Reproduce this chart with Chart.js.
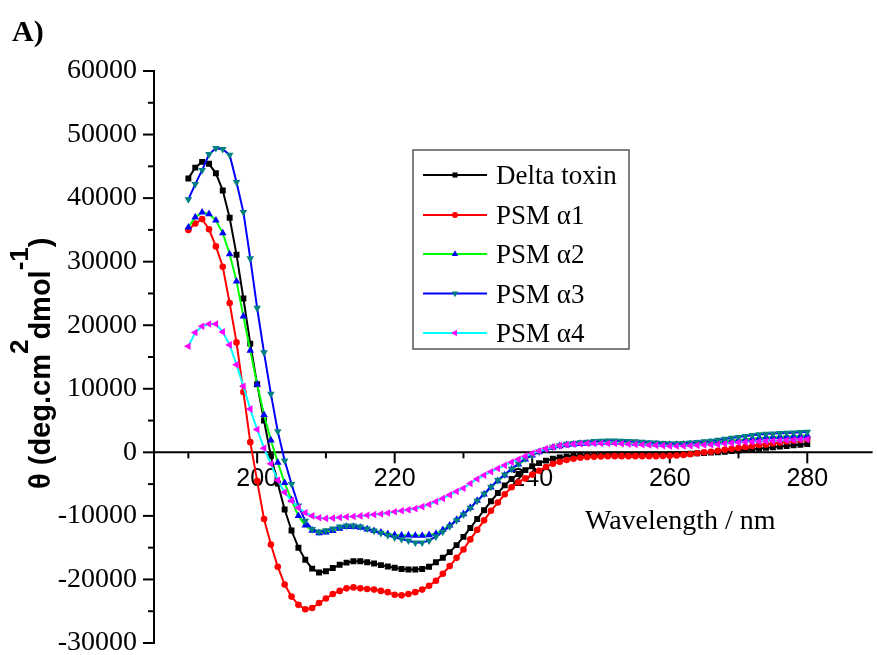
<!DOCTYPE html>
<html>
<head>
<meta charset="utf-8">
<script src="https://cdn.jsdelivr.net/npm/chart.js@4/dist/chart.umd.min.js"></script>
<style>
html,body{margin:0;padding:0;background:#fff;overflow:hidden;}
canvas{display:block;}
</style>
</head>
<body>
<canvas id="c" width="877" height="655"></canvas>
<script>
// ---- data ----
const wavelengths = [
190,191,192,193,194,195,196,197,198,199,
200,201,202,203,204,205,206,207,208,209,
210,211,212,213,214,215,216,217,218,219,
220,221,222,223,224,225,226,227,228,229,
230,231,232,233,234,235,236,237,238,239,
240,241,242,243,244,245,246,247,248,249,
250,251,252,253,254,255,256,257,258,259,
260,261,262,263,264,265,266,267,268,269,
270,271,272,273,274,275,276,277,278,279,
280];

const deltaToxin = [
43100,44800,45700,45400,43900,41200,36900,31100,24200,17100,
10700,5000,-600,-4900,-9000,-12300,-15000,-16900,-18300,-18900,
-18700,-18200,-17700,-17350,-17150,-17150,-17300,-17500,-17750,-17950,
-18150,-18350,-18450,-18450,-18350,-18000,-17300,-16600,-15700,-14600,
-13300,-11900,-10500,-9100,-7700,-6400,-5200,-4200,-3400,-2800,
-2200,-1700,-1300,-1000,-800,-650,-550,-480,-430,-400,
-380,-360,-350,-350,-350,-350,-350,-350,-340,-320,
-300,-280,-250,-200,-150,-100,-50,0,100,200,
300,400,500,600,700,800,900,1000,1100,1200,
1300];

const psmA1 = [
35000,36000,36700,35100,32400,29200,23500,17300,9500,1600,
-4500,-10500,-14500,-18000,-20800,-22700,-24000,-24700,-24500,-23700,
-23000,-22300,-21800,-21400,-21250,-21400,-21500,-21600,-21800,-22000,
-22400,-22500,-22300,-22000,-21600,-21000,-20200,-19100,-17900,-16600,
-15300,-13700,-12200,-10700,-9200,-7900,-6600,-5500,-4700,-4100,
-3500,-2900,-2300,-1800,-1500,-1200,-1000,-850,-750,-700,
-650,-620,-600,-600,-600,-600,-600,-600,-600,-580,
-550,-500,-400,-300,-150,0,100,250,400,550,
700,850,1000,1150,1250,1400,1550,1700,1850,1950,
2050];

const psmA2 = [
35400,37000,37750,37500,36500,34500,31200,26900,21400,16000,
10700,5900,1900,-1600,-4800,-7500,-10000,-11500,-12300,-12700,
-12600,-12350,-12000,-11700,-11700,-11850,-12100,-12350,-12600,-12850,
-13000,-13050,-13050,-13100,-13100,-13000,-12800,-12200,-11500,-10600,
-9700,-8700,-7600,-6600,-5500,-4500,-3600,-2700,-1900,-1100,
-450,50,400,750,1000,1150,1250,1350,1400,1450,
1500,1500,1500,1500,1450,1400,1350,1300,1250,1200,
1200,1200,1250,1300,1350,1450,1550,1650,1750,1850,
1950,2050,2150,2250,2350,2400,2450,2500,2550,2600,
2650];

const psmA3 = [
39800,42200,44400,46900,47850,47700,46800,42500,37800,30500,
22700,15700,9200,3300,-1300,-5000,-8400,-10800,-12100,-12500,
-12300,-12000,-11700,-11550,-11550,-11700,-12000,-12350,-12700,-13050,
-13400,-13650,-13900,-14200,-14200,-13900,-13250,-12500,-11650,-10700,
-9800,-8750,-7650,-6550,-5450,-4400,-3500,-2600,-1800,-1000,
-450,100,500,850,1100,1300,1450,1550,1650,1750,
1800,1850,1850,1800,1750,1700,1650,1550,1500,1450,
1400,1400,1450,1500,1600,1700,1800,1950,2100,2250,
2400,2550,2700,2800,2900,2950,3000,3050,3100,3150,
3200];

const psmA4 = [
16700,18850,19840,20200,20200,18950,16900,13800,10400,6800,
3600,650,-1800,-4400,-6300,-7600,-8700,-9500,-10000,-10300,
-10400,-10350,-10250,-10150,-10100,-10000,-9900,-9800,-9700,-9550,
-9350,-9200,-9050,-8850,-8550,-8200,-7750,-7250,-6700,-6150,
-5650,-4900,-4200,-3600,-3050,-2550,-2050,-1550,-1100,-600,
-150,200,550,850,1050,1200,1300,1350,1400,1400,
1400,1400,1380,1350,1300,1250,1200,1150,1100,1050,
1000,1000,1000,1050,1100,1150,1200,1250,1350,1450,
1550,1600,1650,1700,1750,1800,1850,1900,1950,2000,
2050];

const seriesNames = ['Delta toxin', 'PSM α1', 'PSM α2', 'PSM α3', 'PSM α4'];
const xTickLabels = [200, 220, 240, 260, 280];
const xTickAll = [190, 200, 210, 220, 230, 240, 250, 260, 270, 280];
const yTickAll = [-30000,-25000,-20000,-15000,-10000,-5000,0,5000,10000,15000,20000,25000,30000,35000,40000,45000,50000,55000,60000];

// ---- styles ----
const styles = [
  {line:'#000000', mark:'#000000', shape:'rect', rot:0, r:4.2},
  {line:'#ff0000', mark:'#ff0000', shape:'circle', rot:0, r:3.3},
  {line:'#00ff00', mark:'#0000ff', shape:'triangle', rot:0, r:4.4},
  {line:'#0000ff', mark:'#008080', shape:'triangle', rot:180, r:4.4},
  {line:'#00ffff', mark:'#ff00ff', shape:'triangle', rot:270, r:4.4}
];
const seriesValues = [deltaToxin, psmA1, psmA2, psmA3, psmA4];

const datasets = seriesValues.map((vals, i) => ({
  label: seriesNames[i],
  data: wavelengths.map((w, k) => ({x: w, y: vals[k]})),
  borderColor: styles[i].line,
  borderWidth: 2,
  pointStyle: styles[i].shape,
  pointRotation: styles[i].rot,
  pointRadius: styles[i].r,
  pointBackgroundColor: styles[i].mark,
  pointBorderColor: styles[i].mark,
  pointBorderWidth: 0,
  tension: 0,
  fill: false,
  order: 5 - i
}));

function drawMarker(ctx, shape, x, y, r, rot, color) {
  ctx.save();
  ctx.fillStyle = color;
  ctx.beginPath();
  if (shape === 'rect') {
    const s = r * Math.SQRT1_2;
    ctx.rect(x - s, y - s, 2 * s, 2 * s);
  } else if (shape === 'circle') {
    ctx.arc(x, y, r, 0, Math.PI * 2);
  } else {
    for (let k = 0; k < 3; k++) {
      const a = (rot + k * 120) * Math.PI / 180;
      const px = x + Math.sin(a) * r, py = y - Math.cos(a) * r;
      if (k === 0) ctx.moveTo(px, py); else ctx.lineTo(px, py);
    }
    ctx.closePath();
  }
  ctx.fill();
  ctx.restore();
}

const axesPlugin = {
  id: 'axesTicks',
  beforeDatasetsDraw(chart) {
    const {ctx, chartArea: ca, scales: {x: xs, y: ys}} = chart;
    ctx.save();
    ctx.strokeStyle = '#000';
    ctx.lineWidth = 2;
    const yTop = ys.getPixelForValue(60000), yBot = ys.getPixelForValue(-30000);
    ctx.beginPath();
    ctx.moveTo(ca.left, yTop - 1);
    ctx.lineTo(ca.left, yBot + 1);
    ctx.stroke();
    yTickAll.forEach(v => {
      const p = ys.getPixelForValue(v);
      const len = (v % 10000 === 0) ? 11 : 6;
      ctx.beginPath();
      ctx.moveTo(ca.left - len, p);
      ctx.lineTo(ca.left, p);
      ctx.stroke();
    });
    const y0 = ys.getPixelForValue(0);
    ctx.beginPath();
    ctx.moveTo(ca.left, y0);
    ctx.lineTo(ca.right, y0);
    ctx.stroke();
    xTickAll.forEach(v => {
      const p = xs.getPixelForValue(v);
      const len = (v % 20 === 0) ? 11 : 6;
      ctx.beginPath();
      ctx.moveTo(p, y0);
      ctx.lineTo(p, y0 + len);
      ctx.stroke();
    });
    ctx.restore();
  },
  afterDraw(chart) {
    const ctx = chart.ctx;
    ctx.save();
    ctx.fillStyle = '#000';
    ctx.font = 'bold 30px "Liberation Serif", "Times New Roman", serif';
    ctx.textBaseline = 'alphabetic';
    ctx.textAlign = 'left';
    ctx.fillText('A)', 12, 41);

    ctx.font = '28px "Liberation Serif", "Times New Roman", serif';
    ctx.fillText('Wavelength / nm', 585, 529);

    ctx.save();
    ctx.translate(50, 489);
    ctx.rotate(-Math.PI / 2);
    const mainFont = 'bold 29px "Liberation Sans", Arial, sans-serif';
    const supFont = 'bold 26px "Liberation Sans", Arial, sans-serif';
    const parts = [
      {t: 'θ (deg.cm', f: mainFont, dy: 0},
      {t: '2', f: supFont, dy: -22},
      {t: 'dmol', f: mainFont, dy: 0},
      {t: '-1', f: supFont, dy: -22},
      {t: ')', f: mainFont, dy: 0}
    ];
    let cx = 0;
    parts.forEach(p => {
      ctx.font = p.f;
      ctx.fillText(p.t, cx, p.dy);
      cx += ctx.measureText(p.t).width;
    });
    ctx.restore();

    const lx = 413, ly = 150, lw = 216, lh = 199;
    ctx.fillStyle = '#fff';
    ctx.fillRect(lx, ly, lw, lh);
    ctx.strokeStyle = '#555';
    ctx.lineWidth = 1.5;
    ctx.strokeRect(lx, ly, lw, lh);
    const rows = [175, 215, 254, 293.5, 333];
    chart.data.datasets.forEach((ds, i) => {
      const y = rows[i];
      ctx.strokeStyle = ds.borderColor;
      ctx.lineWidth = 2;
      ctx.beginPath();
      ctx.moveTo(423, y);
      ctx.lineTo(487, y);
      ctx.stroke();
      drawMarker(ctx, ds.pointStyle, 455, y, ds.pointStyle === 'rect' ? 3.6 : (ds.pointStyle === 'circle' ? 3 : 3.8), ds.pointRotation, ds.pointBackgroundColor);
      ctx.fillStyle = '#000';
      ctx.font = '27px "Liberation Serif", "Times New Roman", serif';
      ctx.textBaseline = 'alphabetic';
      ctx.fillText(ds.label, 496, y + 9);
    });
    ctx.restore();
  }
};

new Chart(document.getElementById('c'), {
  type: 'line',
  data: {datasets},
  options: {
    responsive: false,
    animation: false,
    devicePixelRatio: 1,
    layout: {padding: {left: 0, right: 0, top: 71, bottom: 12}},
    plugins: {legend: {display: false}, tooltip: {enabled: false}},
    scales: {
      x: {
        type: 'linear',
        min: 185,
        max: 289.5,
        position: {y: 0},
        grid: {display: false, drawTicks: false},
        border: {display: false},
        afterBuildTicks: s => { s.ticks = xTickLabels.map(v => ({value: v})); },
        afterFit: s => { s.paddingLeft = 0; s.paddingRight = 0; s.paddingTop = 0; s.paddingBottom = 0; },
        ticks: {
          autoSkip: false, maxRotation: 0, color: '#000', padding: 12,
          font: {family: '"Liberation Sans", Arial, sans-serif', size: 25, lineHeight: 1.2},
          callback: v => String(v)
        }
      },
      y: {
        type: 'linear',
        min: -30000,
        max: 60000,
        position: 'left',
        grid: {display: false, drawTicks: false},
        border: {display: false},
        afterFit: s => { s.width = 154; s.paddingTop = 0; s.paddingBottom = 0; },
        ticks: {
          stepSize: 10000, color: '#000', padding: 17,
          font: {family: '"Liberation Serif", "Times New Roman", serif', size: 28},
          callback: v => String(v)
        }
      }
    }
  },
  plugins: [axesPlugin]
});
</script>
</body>
</html>
